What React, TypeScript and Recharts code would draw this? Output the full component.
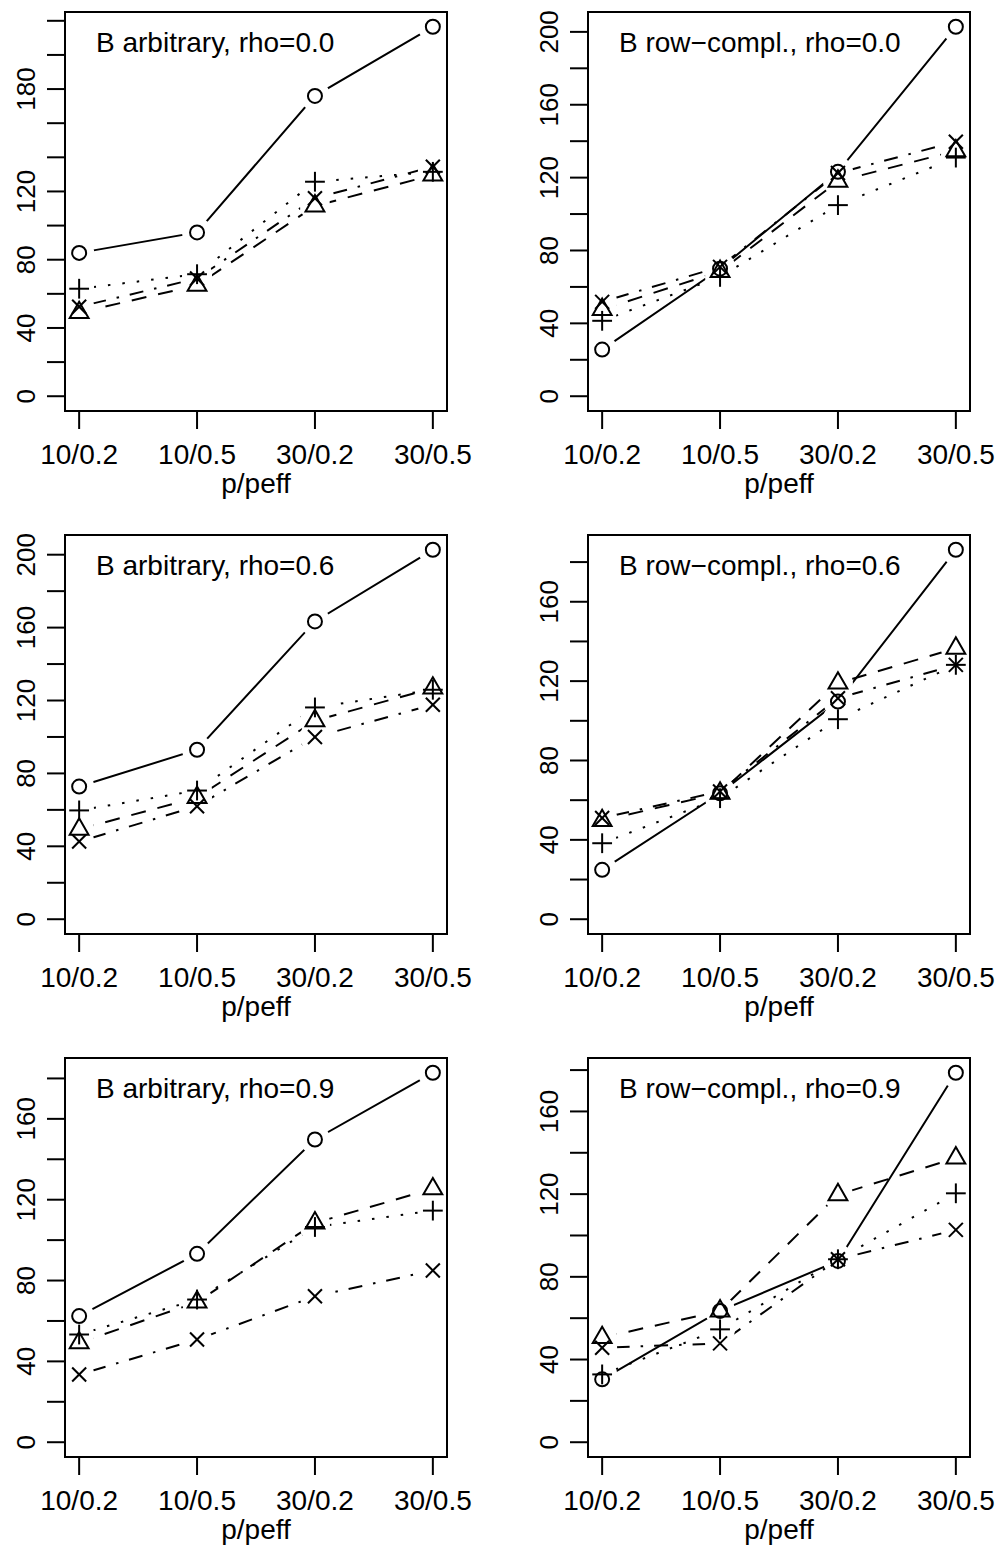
import React from 'react';
import { Line, LineChart, XAxis, YAxis } from 'recharts';

const xLabels = ['10/0.2', '10/0.5', '30/0.2', '30/0.5'];

const titles = [
  'B arbitrary, rho=0.0',
  'B row\u2212compl., rho=0.0',
  'B arbitrary, rho=0.6',
  'B row\u2212compl., rho=0.6',
  'B arbitrary, rho=0.9',
  'B row\u2212compl., rho=0.9',
];

// values, one list per panel and symbol
const arb00Circle = [84, 96, 176, 216.5];
const arb00Triangle = [49, 65, 111.5, 129.6];
const arb00Plus = [63, 71.5, 125.7, 131.5];
const arb00Cross = [52.4, 69, 116, 134.5];

const row00Circle = [25.6, 70, 123.2, 202.8];
const row00Triangle = [47.6, 68.5, 118, 134.7];
const row00Plus = [41.4, 65.5, 104.9, 131];
const row00Cross = [51.8, 71, 122.5, 139.7];

const arb06Circle = [72.8, 93, 163.4, 202.7];
const arb06Triangle = [49.4, 66.8, 108.9, 126.8];
const arb06Plus = [59.7, 70.6, 116.2, 125.9];
const arb06Cross = [42.6, 62, 100, 117.7];

const row06Circle = [24.9, 63.5, 109.7, 186.2];
const row06Triangle = [49.7, 63.5, 119, 136.6];
const row06Plus = [38.3, 61, 100.8, 128.2];
const row06Cross = [51, 64.4, 111.4, 128.2];

const arb09Circle = [62.4, 93.2, 149.8, 182.8];
const arb09Triangle = [49.2, 69.3, 108.5, 125.4];
const arb09Plus = [53.3, 70.6, 106.5, 114.6];
const arb09Cross = [33.5, 50.8, 72.2, 85];

const row09Circle = [30.4, 63.5, 87.7, 178.7];
const row09Triangle = [50.6, 63.5, 119.7, 137.5];
const row09Plus = [32.8, 54.6, 88.5, 120.4];
const row09Cross = [45.7, 47.8, 88.5, 102.7];

// y tick labels that R kept after dropping overlaps
const yLabelsA = [0, 40, 80, 120, 180];
const yLabelsB = [0, 40, 80, 120, 160, 200];
const yLabelsC = [0, 40, 80, 120, 160];

const FONT = '"Liberation Sans", Arial, Helvetica, sans-serif';
const W = 478;
const H = 523;
const PL = 65;
const PT = 12;
const PW = 382;
const PH = 399;
const S = 7;

type Shape = 'circle' | 'triangle' | 'plus' | 'cross';

const Marker = ({ cx, cy, shape }: { cx: number; cy: number; shape: Shape }) => {
  if (cx == null || cy == null) return <g />;
  const st = { stroke: '#000', strokeWidth: 2, fill: 'none' };
  if (shape === 'circle') return <circle cx={cx} cy={cy} r={S} {...st} />;
  if (shape === 'triangle') {
    const r = 1.555 * S;
    const hw = r * 0.866;
    return (
      <polygon
        points={`${cx},${cy - r} ${cx + hw},${cy + r / 2} ${cx - hw},${cy + r / 2}`}
        {...st}
      />
    );
  }
  if (shape === 'plus') {
    const h = 1.414 * S;
    return (
      <g {...st}>
        <line x1={cx - h} y1={cy} x2={cx + h} y2={cy} />
        <line x1={cx} y1={cy - h} x2={cx} y2={cy + h} />
      </g>
    );
  }
  return (
    <g {...st}>
      <line x1={cx - S} y1={cy - S} x2={cx + S} y2={cy + S} />
      <line x1={cx - S} y1={cy + S} x2={cx + S} y2={cy - S} />
    </g>
  );
};

const series: { key: Shape; dash?: string }[] = [
  { key: 'circle' },
  { key: 'triangle', dash: '15 12' },
  { key: 'plus', dash: '2.5 12' },
  { key: 'cross', dash: '2.5 11 14 11' },
];

type PanelProps = {
  title: string;
  circle: number[];
  triangle: number[];
  plus: number[];
  cross: number[];
  yLabels: number[];
  left: number;
  top: number;
};

const Panel = ({ title, circle, triangle, plus, cross, yLabels, left, top }: PanelProps) => {
  const data = xLabels.map((label, i) => ({
    x: i + 1,
    label,
    circle: circle[i],
    triangle: triangle[i],
    plus: plus[i],
    cross: cross[i],
  }));
  const m = Math.max(...circle, ...triangle, ...plus, ...cross);
  const yDomain = [-0.04 * m, 1.04 * m];
  const yTicks: number[] = [];
  for (let v = 0; v <= yDomain[1]; v += 20) yTicks.push(v);

  const XTick = (p: any) => (
    <text
      x={p.x}
      y={p.y + 35}
      textAnchor="middle"
      fontSize={28}
      fontFamily={FONT}
      fill="#000"
    >
      {xLabels[p.payload.value - 1]}
    </text>
  );
  const YTick = (p: any) =>
    yLabels.includes(p.payload.value) ? (
      <text
        transform={`translate(${p.x - 12.5},${p.y}) rotate(-90)`}
        textAnchor="middle"
        fontSize={26}
        fontFamily={FONT}
        fill="#000"
      >
        {p.payload.value}
      </text>
    ) : (
      <g />
    );

  return (
    <div style={{ position: 'absolute', left, top, width: W, height: H }}>
      <LineChart
        width={W}
        height={H}
        data={data}
        margin={{ top: PT, right: W - PL - PW, bottom: 0, left: 0 }}
      >
        <XAxis
          type="number"
          dataKey="x"
          domain={[0.88, 4.12]}
          ticks={[1, 2, 3, 4]}
          interval={0}
          allowDataOverflow
          height={H - PT - PH}
          tickSize={18}
          tickMargin={0}
          axisLine={false}
          tickLine={{ stroke: '#000', strokeWidth: 2 }}
          tick={XTick}
        />
        <YAxis
          type="number"
          domain={yDomain}
          ticks={yTicks}
          interval={0}
          allowDataOverflow
          width={PL}
          tickSize={18}
          tickMargin={0}
          axisLine={false}
          tickLine={{ stroke: '#000', strokeWidth: 2 }}
          tick={YTick}
        />
        {series.map((s) => (
          <Line
            key={s.key}
            dataKey={s.key}
            type="linear"
            stroke="#000"
            strokeWidth={2}
            strokeDasharray={s.dash}
            isAnimationActive={false}
            activeDot={false}
            dot={false}
          />
        ))}
        {/* white patches: the gaps that R's type="b" leaves round each point */}
        {series.map((s) => (
          <Line
            key={`${s.key}-gap`}
            dataKey={s.key}
            type="linear"
            stroke="none"
            isAnimationActive={false}
            activeDot={false}
            dot={(p: any) => (
              <circle key={`g${p.index}`} cx={p.cx} cy={p.cy} r={15} fill="#fff" stroke="none" />
            )}
          />
        ))}
        {series.map((s) => (
          <Line
            key={`${s.key}-pts`}
            dataKey={s.key}
            type="linear"
            stroke="none"
            isAnimationActive={false}
            activeDot={false}
            dot={(p: any) => <Marker key={`p${p.index}`} cx={p.cx} cy={p.cy} shape={s.key} />}
          />
        ))}
      </LineChart>
      <div
        style={{
          position: 'absolute',
          left: PL - 1,
          top: PT - 1,
          width: PW + 2,
          height: PH + 2,
          border: '2px solid #000',
          boxSizing: 'border-box',
          pointerEvents: 'none',
        }}
      />
      <div
        style={{
          position: 'absolute',
          left: PL + 31,
          top: PT + 41 - 24,
          fontSize: 28,
          lineHeight: '28px',
          fontFamily: FONT,
          whiteSpace: 'nowrap',
        }}
      >
        {title}
      </div>
      <div
        style={{
          position: 'absolute',
          left: PL,
          width: PW,
          top: PT + PH + 81 - 22,
          textAlign: 'center',
          fontSize: 28,
          lineHeight: '28px',
          fontFamily: FONT,
        }}
      >
        p/peff
      </div>
    </div>
  );
};

const App = () => {
  return (
    <div
      style={{
        position: 'absolute',
        left: 0,
        top: 0,
        width: 1001,
        height: 1547,
        overflow: 'hidden',
        background: '#fff',
      }}
    >
      <Panel title={titles[0]} circle={arb00Circle} triangle={arb00Triangle} plus={arb00Plus} cross={arb00Cross} yLabels={yLabelsA} left={0} top={0} />
      <Panel title={titles[1]} circle={row00Circle} triangle={row00Triangle} plus={row00Plus} cross={row00Cross} yLabels={yLabelsB} left={523} top={0} />
      <Panel title={titles[2]} circle={arb06Circle} triangle={arb06Triangle} plus={arb06Plus} cross={arb06Cross} yLabels={yLabelsB} left={0} top={523} />
      <Panel title={titles[3]} circle={row06Circle} triangle={row06Triangle} plus={row06Plus} cross={row06Cross} yLabels={yLabelsC} left={523} top={523} />
      <Panel title={titles[4]} circle={arb09Circle} triangle={arb09Triangle} plus={arb09Plus} cross={arb09Cross} yLabels={yLabelsC} left={0} top={1046} />
      <Panel title={titles[5]} circle={row09Circle} triangle={row09Triangle} plus={row09Plus} cross={row09Cross} yLabels={yLabelsC} left={523} top={1046} />
    </div>
  );
};

export default App;
